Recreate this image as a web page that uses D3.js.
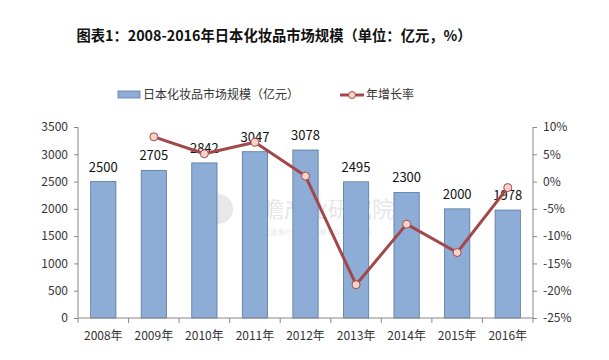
<!DOCTYPE html>
<html><head><meta charset="utf-8">
<script src="https://cdn.jsdelivr.net/npm/d3@7"></script>
<style>body{margin:0;background:#fff}svg{display:block}</style>
</head><body>
<svg id="c" width="609" height="360"></svg>
<script>
const years = ["2008年","2009年","2010年","2011年","2012年","2013年","2014年","2015年","2016年"];
const sizes = [2500,2705,2842,3047,3078,2495,2300,2000,1978];
const growth = [null,8.2,5.1,7.2,1.0,-18.9,-7.8,-13.0,-1.1];
const leftTicks = [0,500,1000,1500,2000,2500,3000,3500];
const rightTicks = [-25,-20,-15,-10,-5,0,5,10];

const svg = d3.select("#c");
const L = 78, R = 533, T = 127, B = 318;
const x = d3.scaleBand().domain(years).range([L,R]).paddingInner(0.5).paddingOuter(0.25);
const y = d3.scaleLinear().domain([0,3500]).range([B,T]);
const y2 = d3.scaleLinear().domain([-25,10]).range([B,T]);
const font = "'Noto Sans CJK SC','Noto Sans',sans-serif";

// title
svg.append("text").attr("x",274).attr("y",41).attr("text-anchor","middle")
  .attr("font-family",font).attr("font-weight","bold").attr("font-size",14.3).attr("fill","#111")
  .text("图表1：2008-2016年日本化妆品市场规模（单位：亿元，%）");

// watermark
const wm = svg.append("g").attr("opacity",0.2);
wm.append("circle").attr("cx",218).attr("cy",209).attr("r",15).attr("fill","#8a8f96");
wm.append("text").attr("x",240).attr("y",217).attr("font-family",font).attr("font-size",22).attr("fill","#7d848c").text("前瞻产业研究院");
wm.append("text").attr("x",242).attr("y",235).attr("font-family",font).attr("font-size",7).attr("fill","#7d848c").text("中国研究咨询行业领导品牌 400-068-8395");

// legend
svg.append("rect").attr("x",118).attr("y",91).attr("width",22).attr("height",7).attr("fill","#8eadd6").attr("stroke","#5a7aa5").attr("stroke-width",0.8);
svg.append("text").attr("x",143).attr("y",99).attr("font-family",font).attr("font-size",12).attr("fill","#333").text("日本化妆品市场规模（亿元）");
svg.append("line").attr("x1",340).attr("x2",364).attr("y1",95).attr("y2",95).attr("stroke","#a2484a").attr("stroke-width",3);
svg.append("circle").attr("cx",352).attr("cy",95).attr("r",3.5).attr("fill","#f6d3cb").attr("stroke","#a2484a").attr("stroke-width",1);
svg.append("text").attr("x",366).attr("y",99).attr("font-family",font).attr("font-size",12).attr("fill","#333").text("年增长率");

// bars
svg.selectAll("rect.bar").data(sizes).enter().append("rect").attr("class","bar")
  .attr("x",(d,i)=>x(years[i])).attr("width",x.bandwidth())
  .attr("y",d=>y(d)).attr("height",d=>B-y(d))
  .attr("fill","#8eadd6").attr("stroke","#56779f").attr("stroke-width",0.8);

// axes
const axL = svg.append("g").attr("transform",`translate(${L},0)`)
  .call(d3.axisLeft(y).tickValues(leftTicks).tickFormat(d3.format("d")).tickSize(4).tickPadding(6));
const axR = svg.append("g").attr("transform",`translate(${R},0)`)
  .call(d3.axisRight(y2).tickValues(rightTicks).tickSize(4).tickPadding(6).tickFormat(d=>d+"%"));
const step = x.step();
const axB = svg.append("g").attr("transform",`translate(0,${B})`)
  .call(d3.axisBottom(x).tickSize(0).tickPadding(13));
axB.selectAll(".tick").append("line").attr("x1",-step/2).attr("x2",-step/2).attr("y1",0).attr("y2",5).attr("stroke","#888");
axB.append("line").attr("x1",R).attr("x2",R).attr("y1",0).attr("y2",5).attr("stroke","#888");
[axL,axR,axB].forEach(a=>{
  a.select(".domain").attr("stroke","#888");
  a.selectAll(".tick line").attr("stroke","#888");
  a.selectAll("text").attr("font-family",font).attr("font-size",12).attr("fill","#333");
});
axL.select(".domain").attr("d",`M0,${T}V${B}`);
axR.select(".domain").attr("d",`M0,${T}V${B}`);
axB.select(".domain").attr("d",`M${L},0H${R}`);

// data labels
svg.selectAll("text.lbl").data(sizes).enter().append("text").attr("class","lbl")
  .attr("x",(d,i)=>x(years[i])+x.bandwidth()/2).attr("y",d=>y(d)-10)
  .attr("text-anchor","middle").attr("font-family",font).attr("font-size",13).attr("fill","#111")
  .text(d=>d);

// line
const pts = growth.map((g,i)=>({g,i})).filter(d=>d.g!==null);
const line = d3.line().x(d=>x(years[d.i])+x.bandwidth()/2).y(d=>y2(d.g));
svg.append("path").datum(pts).attr("d",line).attr("fill","none").attr("stroke","#a2484a").attr("stroke-width",3).attr("stroke-linejoin","round");
svg.selectAll("circle.pt").data(pts).enter().append("circle").attr("class","pt")
  .attr("cx",d=>x(years[d.i])+x.bandwidth()/2).attr("cy",d=>y2(d.g)).attr("r",4)
  .attr("fill","#f6d3cb").attr("stroke","#a2484a").attr("stroke-width",1);
</script>
</body></html>
